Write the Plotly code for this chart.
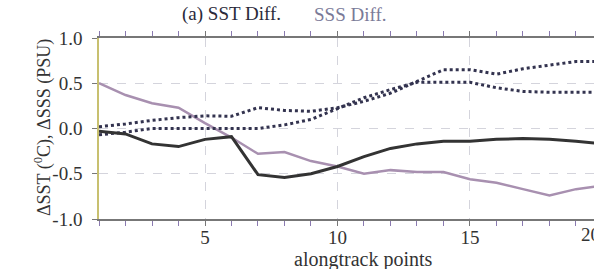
import plotly.graph_objects as go

x_points = list(range(1, 21))
sst_diff = [-0.03, -0.06, -0.17, -0.20, -0.12, -0.09, -0.51, -0.54, -0.50, -0.42,
            -0.31, -0.22, -0.17, -0.14, -0.14, -0.12, -0.11, -0.12, -0.14, -0.17]
sss_diff = [0.50, 0.37, 0.28, 0.23, 0.06, -0.10, -0.28, -0.26, -0.36, -0.42,
            -0.50, -0.46, -0.48, -0.48, -0.56, -0.60, -0.67, -0.74, -0.67, -0.63]
dot_upper = [0.02, 0.05, 0.09, 0.12, 0.14, 0.135, 0.23, 0.20, 0.19, 0.23,
             0.30, 0.39, 0.52, 0.65, 0.65, 0.60, 0.66, 0.70, 0.74, 0.74]
dot_lower = [-0.07, -0.04, 0.0, 0.0, 0.0, 0.0, 0.0, 0.04, 0.10, 0.22,
             0.34, 0.43, 0.51, 0.51, 0.51, 0.45, 0.41, 0.40, 0.40, 0.40]
x_tickvals = [5, 10, 15]
y_tickvals = [-1.0, -0.5, 0.0, 0.5, 1.0]
y_ticktext = ["-1.0", "-0.5", "0.0", "0.5", "1.0"]
x_range = [1, 19.68]

FONT = "Liberation Serif, Times New Roman, DejaVu Serif, serif"
TXT = "#333333"

fig = go.Figure()
fig.add_trace(go.Scatter(x=x_points, y=sss_diff, mode="lines",
                         line=dict(color="#a890b0", width=2.5)))
fig.add_trace(go.Scatter(x=x_points, y=dot_upper, mode="lines",
                         line=dict(color="#33334f", width=3, dash="dot")))
fig.add_trace(go.Scatter(x=x_points, y=dot_lower, mode="lines",
                         line=dict(color="#33334f", width=3, dash="dot")))
fig.add_trace(go.Scatter(x=x_points, y=sst_diff, mode="lines",
                         line=dict(color="#333333", width=3)))

fig.update_layout(
    width=594, height=269,
    margin=dict(l=99, r=0, t=38, b=50, autoexpand=False),
    paper_bgcolor="white", plot_bgcolor="white",
    showlegend=False,
    font=dict(family=FONT, color=TXT, size=19),
)
fig.update_xaxes(
    range=x_range, tickvals=x_tickvals, ticks="outside", ticklen=5, tickcolor="#777",
    showline=True, linecolor="#777", linewidth=1.5, mirror="ticks",
    showgrid=True, gridcolor="#d4d4dc", griddash="dash", gridwidth=1,
    zeroline=False, automargin=False, ticklabelstandoff=-5,
    minor=dict(dtick=1, tick0=1, ticks="outside", ticklen=5, tickcolor="#8a7ab0", showgrid=False),
    tickfont=dict(family=FONT, size=19, color=TXT),
)
fig.update_yaxes(
    range=[-1.0, 1.0], tickvals=y_tickvals, ticktext=y_ticktext,
    ticks="outside", ticklen=5, tickcolor="#777",
    showline=True, linecolor="#c8c070", linewidth=1.5,
    showgrid=True, gridcolor="#d4d4dc", griddash="dash", gridwidth=1,
    zeroline=False, automargin=False, ticklabelstandoff=6,
    tickfont=dict(family=FONT, size=19, color=TXT),
)

def px_to_paper_x(px):
    return (px - 99) / (594 - 99)

def px_to_paper_y(py):
    return (219 - py) / (219 - 38)

# axis titles
fig.add_annotation(x=px_to_paper_x(363), y=px_to_paper_y(259), xref="paper", yref="paper",
                   text="alongtrack points", showarrow=False, xanchor="center", yanchor="middle",
                   font=dict(family=FONT, size=20, color=TXT))
fig.add_annotation(x=px_to_paper_x(43), y=px_to_paper_y(128), xref="paper", yref="paper",
                   text="ΔSST (<sup>0</sup>C), ΔSSS (PSU)", textangle=-90, showarrow=False,
                   xanchor="center", yanchor="middle",
                   font=dict(family=FONT, size=18, color=TXT))
# cut-off "20" tick label at the right edge
fig.add_annotation(x=(20 - x_range[0]) / (x_range[1] - x_range[0]), xref="paper",
                   y=0, yref="paper", yanchor="top", yshift=-3,
                   text="20", showarrow=False, font=dict(family=FONT, size=19, color=TXT))
# panel titles
fig.add_annotation(x=px_to_paper_x(180), y=1, xref="paper", yref="paper",
                   text="(a) SST Diff.", showarrow=False, yanchor="bottom", yshift=11,
                   font=dict(family=FONT, size=19, color="#2a2a3a"))
fig.add_annotation(x=px_to_paper_x(350), y=1, xref="paper", yref="paper",
                   text="SSS Diff.", showarrow=False, yanchor="bottom", yshift=11,
                   font=dict(family=FONT, size=19, color="#7a7a98"))

fig.write_html("out.html", config={"displayModeBar": False},
               post_script="document.body.style.margin='0';")
